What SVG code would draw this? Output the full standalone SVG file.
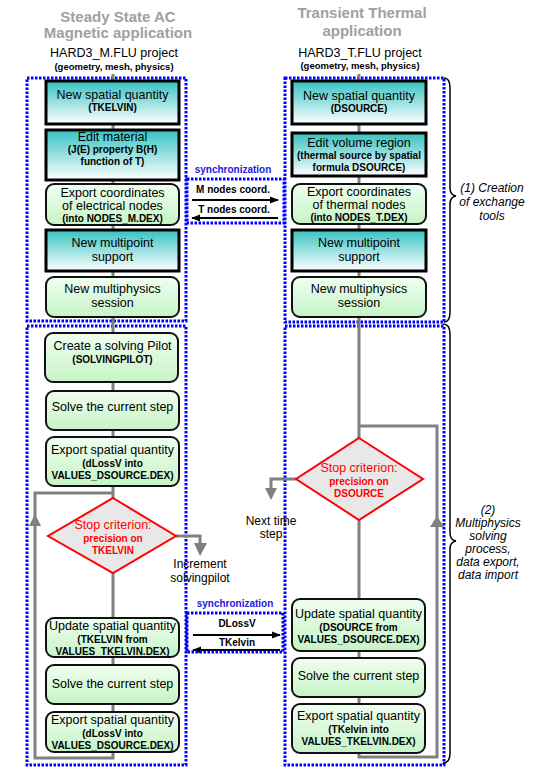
<svg xmlns="http://www.w3.org/2000/svg" width="533" height="776" viewBox="0 0 533 776">
<style>
text{font-family:"Liberation Sans",Arial,sans-serif;fill:#000;text-anchor:middle}
.title{font-size:15px;font-weight:bold;fill:#a0a0a0}
.proj{font-size:12.5px}
.geo{font-size:9.5px;font-weight:bold}
.m{font-size:12.5px}
.s{font-size:10px;font-weight:bold}
.sync{font-size:10px;font-weight:bold;fill:#2020e0}
.red{fill:#ff0000}
.it{font-size:12px;font-style:italic}
.lab{font-size:12px}
.dot{fill:none;stroke:#0000ff;stroke-width:3;stroke-dasharray:2.5 1.5}
.teal{fill:url(#gt);stroke:#000;stroke-width:3}
.green{fill:url(#gg);stroke:#111;stroke-width:2}
.gl{fill:none;stroke:#808080;stroke-width:3}
.ga{fill:#808080}
.dia{fill:#e8e8e8;stroke:#ff0000;stroke-width:2}
.bl{stroke:#000;stroke-width:1.8}
.brace{fill:none;stroke:#000;stroke-width:1.5}
</style>
<defs>
<linearGradient id="gt" x1="0" y1="0" x2="0" y2="1"><stop offset="0" stop-color="#36c2c2"/><stop offset="1" stop-color="#ffffff"/></linearGradient>
<linearGradient id="gg" x1="0" y1="0" x2="0" y2="1"><stop offset="0" stop-color="#f0fff0"/><stop offset="1" stop-color="#c6f3c6"/></linearGradient>
<marker id="ah" viewBox="0 0 10 10" refX="9" refY="5" markerWidth="5" markerHeight="5" orient="auto-start-reverse"><path d="M0,1 L10,5 L0,9 Z" fill="#000"/></marker>
</defs>

<g id="titles">
<text class="title" x="118" y="22">Steady State AC</text>
<text class="title" x="118" y="38">Magnetic application</text>
<text class="proj" x="114" y="57">HARD3_M.FLU project</text>
<text class="geo" x="114" y="70">(geometry, mesh, physics)</text>
<text class="title" x="362" y="18">Transient Thermal</text>
<text class="title" x="362" y="36">application</text>
<text class="proj" x="360" y="57">HARD3_T.FLU project</text>
<text class="geo" x="360" y="69">(geometry, mesh, physics)</text>
</g>

<g id="groups">
<rect class="dot" x="27" y="78" width="159" height="243"/>
<rect class="dot" x="27" y="326" width="159" height="439"/>
<rect class="dot" x="285" y="78" width="159" height="244"/>
<rect class="dot" x="285" y="326" width="159" height="439"/>
</g>

<g id="connectors">
<path class="gl" d="M113,74 V752"/>
<path class="gl" d="M113,752 V758 H35 V493 H113"/>
<polygon class="ga" points="35,514 29,526 41,526"/>
<path class="gl" d="M176,536 H200 V545"/>
<polygon class="ga" points="200,556 194,543 207,543"/>
<path class="gl" d="M359,74 V438"/>
<path class="gl" d="M359,520 V757 H437 V426 H359"/>
<polygon class="ga" points="437,516 430,527 444,527"/>
<path class="gl" d="M296,479 H271 V489"/>
<polygon class="ga" points="271,500 265,488 277,488"/>
<line class="bl" x1="192" y1="200" x2="278" y2="200" marker-end="url(#ah)"/>
<line class="bl" x1="278" y1="218" x2="192" y2="218" marker-end="url(#ah)"/>
<line class="bl" x1="193" y1="635" x2="280" y2="635" marker-end="url(#ah)"/>
<line class="bl" x1="280" y1="650" x2="193" y2="650" marker-end="url(#ah)"/>
</g>

<g id="sync1">
<rect class="dot" x="187" y="179" width="97" height="44"/>
<text class="sync" x="233" y="173">synchronization</text>
<text class="s" x="233" y="193">M nodes coord.</text>
<text class="s" x="234" y="213">T nodes coord.</text>
</g>
<g id="sync2">
<rect class="dot" x="187" y="613" width="96" height="39"/>
<text class="sync" x="235" y="607">synchronization</text>
<text class="s" x="237" y="627">DLossV</text>
<text class="s" x="237" y="646">TKelvin</text>
</g>

<g id="m1"><rect class="teal" x="46" y="81" width="133" height="43"/>
<text class="m" x="112.5" y="99">New spatial quantity</text><text class="s" x="112.5" y="111">(TKELVIN)</text></g>
<g id="m2"><rect class="teal" x="46" y="130" width="133" height="50"/>
<text class="m" x="112.5" y="141">Edit material</text><text class="s" x="112.5" y="153">(J(E) property B(H)</text><text class="s" x="112.5" y="165">function of T)</text></g>
<g id="m3"><rect class="green" x="46" y="184" width="133" height="41" rx="8"/>
<text class="m" x="112.5" y="197">Export coordinates</text><text class="m" x="112.5" y="210">of electrical nodes</text><text class="s" x="112.5" y="222">(into NODES_M.DEX)</text></g>
<g id="m4"><rect class="teal" x="46" y="230" width="133" height="41"/>
<text class="m" x="112.5" y="247">New multipoint</text><text class="m" x="112.5" y="261">support</text></g>
<g id="m5"><rect class="green" x="46" y="277" width="133" height="40" rx="8"/>
<text class="m" x="112.5" y="293">New multiphysics</text><text class="m" x="112.5" y="307">session</text></g>
<g id="m6"><rect class="green" x="45" y="333" width="133" height="49" rx="8"/>
<text class="m" x="112.5" y="350">Create a solving Pilot</text><text class="s" x="112.5" y="363">(SOLVINGPILOT)</text></g>
<g id="m7"><rect class="green" x="46" y="391" width="133" height="39" rx="8"/>
<text class="m" x="112.5" y="411">Solve the current step</text></g>
<g id="m8"><rect class="green" x="46" y="437" width="133" height="49" rx="8"/>
<text class="m" x="112.5" y="454">Export spatial quantity</text><text class="s" x="112.5" y="467">(dLossV into</text><text class="s" x="112.5" y="479">VALUES_DSOURCE.DEX)</text></g>
<g id="m9"><polygon class="dia" points="113,498 176,536 113,573 48,536"/>
<text class="m red" x="113" y="529">Stop criterion:</text><text class="s red" x="113" y="542">precision on</text><text class="s red" x="113" y="554">TKELVIN</text></g>
<g id="m10"><rect class="green" x="46" y="618" width="133" height="39" rx="8"/>
<text class="m" x="112.5" y="630">Update spatial quantity</text><text class="s" x="112.5" y="643">(TKELVIN from</text><text class="s" x="112.5" y="655">VALUES_TKELVIN.DEX)</text></g>
<g id="m11"><rect class="green" x="46" y="665" width="133" height="39" rx="8"/>
<text class="m" x="112.5" y="688">Solve the current step</text></g>
<g id="m12"><rect class="green" x="46" y="712" width="133" height="40" rx="8"/>
<text class="m" x="112.5" y="724">Export spatial quantity</text><text class="s" x="112.5" y="737">(dLossV into</text><text class="s" x="112.5" y="749">VALUES_DSOURCE.DEX)</text></g>

<g id="t1"><rect class="teal" x="292" y="81" width="134" height="43"/>
<text class="m" x="359" y="100">New spatial quantity</text><text class="s" x="359" y="112">(DSOURCE)</text></g>
<g id="t2"><rect class="teal" x="292" y="133" width="134" height="43"/>
<text class="m" x="359" y="147">Edit volume region</text><text class="s" x="359" y="159">(thermal source by spatial</text><text class="s" x="359" y="171">formula DSOURCE)</text></g>
<g id="t3"><rect class="green" x="292" y="184" width="134" height="40" rx="8"/>
<text class="m" x="359" y="196">Export coordinates</text><text class="m" x="359" y="209">of thermal nodes</text><text class="s" x="359" y="221">(into NODES_T.DEX)</text></g>
<g id="t4"><rect class="teal" x="292" y="230" width="134" height="41"/>
<text class="m" x="359" y="247">New multipoint</text><text class="m" x="359" y="261">support</text></g>
<g id="t5"><rect class="green" x="292" y="277" width="134" height="40" rx="8"/>
<text class="m" x="359" y="293">New multiphysics</text><text class="m" x="359" y="307">session</text></g>
<g id="t6"><polygon class="dia" points="359,438 423,479 359,520 296,479"/>
<text class="m red" x="359" y="472">Stop criterion:</text><text class="s red" x="359" y="485">precision on</text><text class="s red" x="359" y="497">DSOURCE</text></g>
<g id="t7"><rect class="green" x="292" y="599" width="133" height="52" rx="8"/>
<text class="m" x="358.5" y="618">Update spatial quantity</text><text class="s" x="358.5" y="631">(DSOURCE from</text><text class="s" x="358.5" y="643">VALUES_DSOURCE.DEX)</text></g>
<g id="t8"><rect class="green" x="292" y="658" width="133" height="39" rx="8"/>
<text class="m" x="358.5" y="680">Solve the current step</text></g>
<g id="t9"><rect class="green" x="292" y="704" width="133" height="49" rx="8"/>
<text class="m" x="358.5" y="720">Export spatial quantity</text><text class="s" x="358.5" y="733">(TKelvin into</text><text class="s" x="358.5" y="745">VALUES_TKELVIN.DEX)</text></g>

<g id="labels">
<text class="lab" x="200" y="568">Increment</text>
<text class="lab" x="200" y="582">solvingpilot</text>
<text class="lab" x="271" y="525">Next time</text>
<text class="lab" x="271" y="538">step</text>
</g>

<g id="brace1">
<path class="brace" d="M444,78 Q450,78 450,88 L450,188 Q450,195 456,196 Q450,197 450,204 L450,312 Q450,322 444,322"/>
<text class="it" x="492" y="192">(1) Creation</text>
<text class="it" x="492" y="206">of exchange</text>
<text class="it" x="492" y="220">tools</text>
</g>
<g id="brace2">
<path class="brace" d="M443,324 Q450,324 450,334 L450,533 Q450,540 456,541 Q450,542 450,549 L450,753 Q450,763 443,763"/>
<text class="it" x="488" y="514">(2)</text>
<text class="it" x="488" y="527">Multiphysics</text>
<text class="it" x="488" y="540">solving</text>
<text class="it" x="488" y="553">process,</text>
<text class="it" x="488" y="566">data export,</text>
<text class="it" x="488" y="579">data import</text>
</g>
</svg>
